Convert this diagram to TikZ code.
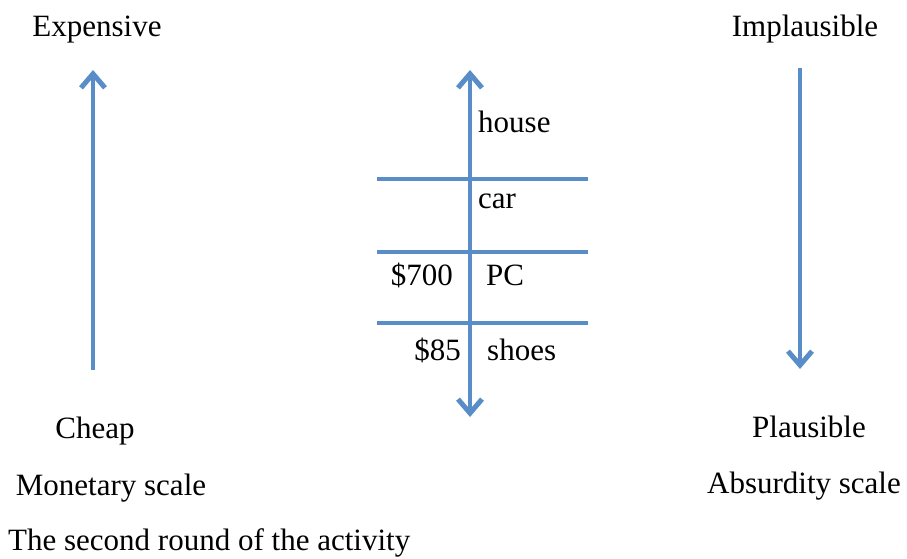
\documentclass[tikz,border=0pt]{standalone}
\usepackage{fontspec}
\setmainfont{Liberation Serif}
\usetikzlibrary{arrows.meta}
\definecolor{scaleblue}{RGB}{88,141,200}
\tikzset{
  lbl/.style={inner sep=0pt, font=\fontsize{31}{36}\selectfont, text=black},
  scaleline/.style={draw=scaleblue, line width=4.5pt},
  barb/.style={Straight Barb[length=14pt,width=24pt,line width=5pt]},
  scalearrow/.style={scaleline, -{Straight Barb[length=14pt,width=24pt,line width=5pt]}},
  bothways/.style={scaleline, {Straight Barb[length=14pt,width=24pt,line width=5pt]}-{Straight Barb[length=14pt,width=24pt,line width=5pt]}}
}
\begin{document}
\begin{tikzpicture}[x=1pt,y=-1pt]
\useasboundingbox (0,0) rectangle (907,559);
% labels
\node[lbl, anchor=base] (exp) at (97,37) {Expensive};
\node[lbl, anchor=base] (impl) at (805,37) {Implausible};
\node[lbl, anchor=base] (cheap) at (95,438) {Cheap};
\node[lbl, anchor=base] (plaus) at (809,437) {Plausible};
\node[lbl, anchor=base] (mon) at (111,495) {Monetary scale};
\node[lbl, anchor=base] (abs) at (804,493) {Absurdity scale};
\node[lbl, anchor=base west] (title) at (8,550) {The second round of the activity};
% middle labels
\node[lbl, anchor=base west] (house) at (478,132) {house};
\node[lbl, anchor=base west] (car) at (478,208) {car};
\node[lbl, anchor=base east] (p700) at (453,285) {\$700};
\node[lbl, anchor=base west] (pc) at (486,285) {PC};
\node[lbl, anchor=base east] (p85) at (461,360) {\$85};
\node[lbl, anchor=base west] (shoes) at (487,360) {shoes};
% coordinates
\coordinate (lb) at (93,370);
\coordinate (lt) at (93,70);
\coordinate (rt) at (800,68);
\coordinate (rb) at (800,369);
\coordinate (mt) at (470,70);
\coordinate (mb) at (470,417);
\coordinate (h1a) at (377,179);
\coordinate (h1b) at (588,179);
\coordinate (h2a) at (377,252);
\coordinate (h2b) at (588,252);
\coordinate (h3a) at (377,323);
\coordinate (h3b) at (588,323);
% arrows
\draw[scalearrow] (lb) -- (lt);
\draw[scalearrow] (rt) -- (rb);
\draw[bothways] (mb) -- (mt);
\draw[scaleline] (h1a) -- (h1b);
\draw[scaleline] (h2a) -- (h2b);
\draw[scaleline] (h3a) -- (h3b);
\end{tikzpicture}
\end{document}
